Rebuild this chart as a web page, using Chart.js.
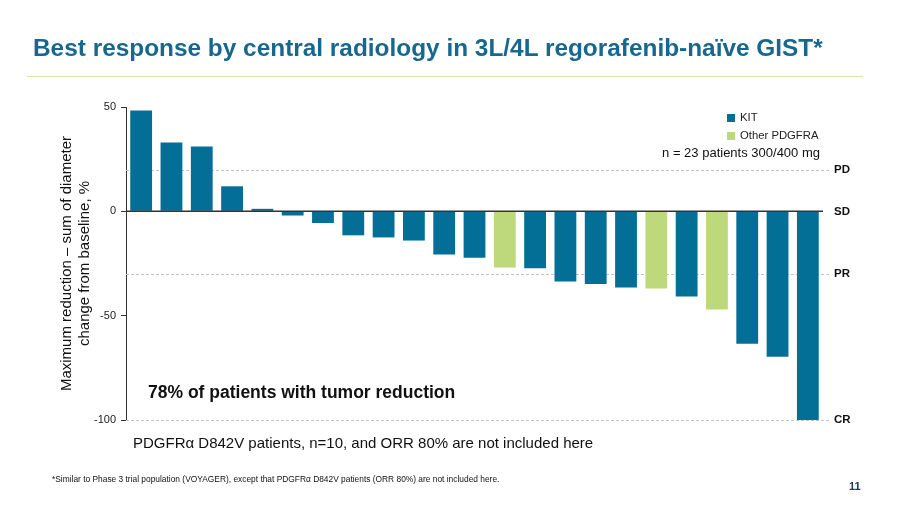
<!DOCTYPE html>
<html>
<head>
<meta charset="utf-8">
<script src="https://cdn.jsdelivr.net/npm/chart.js@4/dist/chart.umd.min.js"></script>
<style>
  html, body { margin: 0; padding: 0; background: #fff; }
  #wrap { position: relative; width: 900px; height: 506px; overflow: hidden; font-family: "Liberation Sans", Arial, sans-serif; }
  #wrap canvas { position: absolute; left: 0; top: 0; }
  .t { position: absolute; white-space: nowrap; line-height: 1; }
  #title { left: 33px; top: 36px; font-size: 24.4px; font-weight: bold; color: #17688F; }
  #rule { position: absolute; left: 27px; top: 76px; width: 836px; height: 1px; background: #D5E8A6; }
  .lg { position: absolute; width: 8px; height: 8px; }
  #lg1 { left: 727px; top: 114px; background: #036E96; }
  #lg2 { left: 727px; top: 132px; background: #BDD97B; }
  .lgt { font-size: 11.3px; color: #222; }
  #n { right: 80px; top: 146px; font-size: 13px; color: #111; }
  #pct { left: 148px; top: 384px; font-size: 17.5px; font-weight: bold; color: #111; }
  #sub { left: 133px; top: 435px; font-size: 15px; color: #111; }
  #foot { left: 52px; top: 475px; font-size: 8.4px; color: #111; }
  #page { left: 849px; top: 481px; font-size: 11px; font-weight: bold; color: #1F3864; }
</style>
</head>
<body>
<div id="wrap">
  <canvas id="c" width="900" height="506"></canvas>
  <div class="t" id="title">Best response by central radiology in 3L/4L regorafenib-naïve GIST*</div>
  <div id="rule"></div>
  <div class="lg" id="lg1"></div>
  <div class="t lgt" style="left:740px; top:112px;">KIT</div>
  <div class="lg" id="lg2"></div>
  <div class="t lgt" style="left:740px; top:130px;">Other PDGFRA</div>
  <div class="t" id="n">n = 23 patients 300/400 mg</div>
  <div class="t" id="pct">78% of patients with tumor reduction</div>
  <div class="t" id="sub">PDGFRα D842V patients, n=10, and ORR 80% are not included here</div>
  <div class="t" id="foot">*Similar to Phase 3 trial population (VOYAGER), except that PDGFRα D842V patients (ORR 80%) are not included here.</div>
  <div class="t" id="page">11</div>
</div>
<script>
// ---- Data ----
const patients = ["1","2","3","4","5","6","7","8","9","10","11","12","13","14","15","16","17","18","19","20","21","22","23"];
const changeFromBaseline = [48.3, 33.0, 31.1, 12.0, 1.2, -2.0, -5.6, -11.5, -12.5, -14.0, -20.7, -22.3, -26.9, -27.3, -33.6, -34.8, -36.5, -37.0, -40.8, -47.0, -63.5, -69.7, -100];
const mutation = ["KIT","KIT","KIT","KIT","KIT","KIT","KIT","KIT","KIT","KIT","KIT","KIT","PDGFRA","KIT","KIT","KIT","KIT","PDGFRA","KIT","PDGFRA","KIT","KIT","KIT"];
const yTicks = [50, 0, -50, -100];
const responseLevels = [20, 0, -30, -100];
const responseLabels = ["PD", "SD", "PR", "CR"];
const dashedLevels = [20, -30, -100];

const colorFor = { KIT: "#036E96", PDGFRA: "#BDD97B" };

const refLines = {
  id: "refLines",
  beforeDatasetsDraw(chart) {
    const { ctx, chartArea } = chart;
    const y = chart.scales.y;
    ctx.save();
    ctx.strokeStyle = "#C4C4C4";
    ctx.lineWidth = 1;
    ctx.setLineDash([3, 2]);
    dashedLevels.forEach(v => {
      const py = Math.round(y.getPixelForValue(v)) + 0.5;
      ctx.beginPath();
      ctx.moveTo(chartArea.left, py);
      ctx.lineTo(chartArea.right + 6, py);
      ctx.stroke();
    });
    ctx.restore();
  },
  afterDatasetsDraw(chart) {
    const { ctx, chartArea } = chart;
    const y = chart.scales.y;
    const py = y.getPixelForValue(0);
    ctx.save();
    ctx.strokeStyle = "#333333";
    ctx.lineWidth = 1.5;
    ctx.beginPath();
    ctx.moveTo(chartArea.left, py);
    ctx.lineTo(chartArea.right, py);
    ctx.stroke();
    ctx.restore();
  }
};

new Chart(document.getElementById("c"), {
  type: "bar",
  data: {
    labels: patients,
    datasets: [{
      data: changeFromBaseline,
      backgroundColor: mutation.map(m => colorFor[m]),
      borderWidth: 0,
      barPercentage: 0.72,
      categoryPercentage: 1.0
    }]
  },
  options: {
    responsive: false,
    animation: false,
    devicePixelRatio: 1,
    layout: { padding: { left: 50, right: 0, top: 107, bottom: 86 } },
    plugins: { legend: { display: false }, tooltip: { enabled: false } },
    scales: {
      x: { display: false },
      y: {
        position: "left",
        min: -100, max: 50,
        afterBuildTicks: s => { s.ticks = yTicks.map(v => ({ value: v })); },
        afterFit: s => { s.width = 76; },
        ticks: { padding: 5, color: "#222", font: { family: "Liberation Sans", size: 11 } },
        grid: { drawOnChartArea: false, drawTicks: true, tickLength: 5, color: "#333" },
        border: { color: "#333", width: 1 },
        title: {
          display: true,
          text: ["Maximum reduction – sum of diameter", "change from baseline, %"],
          color: "#111",
          font: { family: "Liberation Sans", size: 15, lineHeight: 1.2 },
          padding: { top: 8, bottom: 0 }
        }
      },
      y2: {
        position: "right",
        min: -100, max: 50,
        afterBuildTicks: s => { s.ticks = responseLevels.map(v => ({ value: v })); },
        afterFit: s => { s.width = 77; },
        ticks: {
          padding: 11,
          color: "#111",
          font: { family: "Liberation Sans", size: 11.5, weight: "bold" },
          callback: (v) => responseLabels[responseLevels.indexOf(v)]
        },
        grid: { display: false, drawTicks: false },
        border: { display: false }
      }
    }
  },
  plugins: [refLines]
});
</script>
</body>
</html>
